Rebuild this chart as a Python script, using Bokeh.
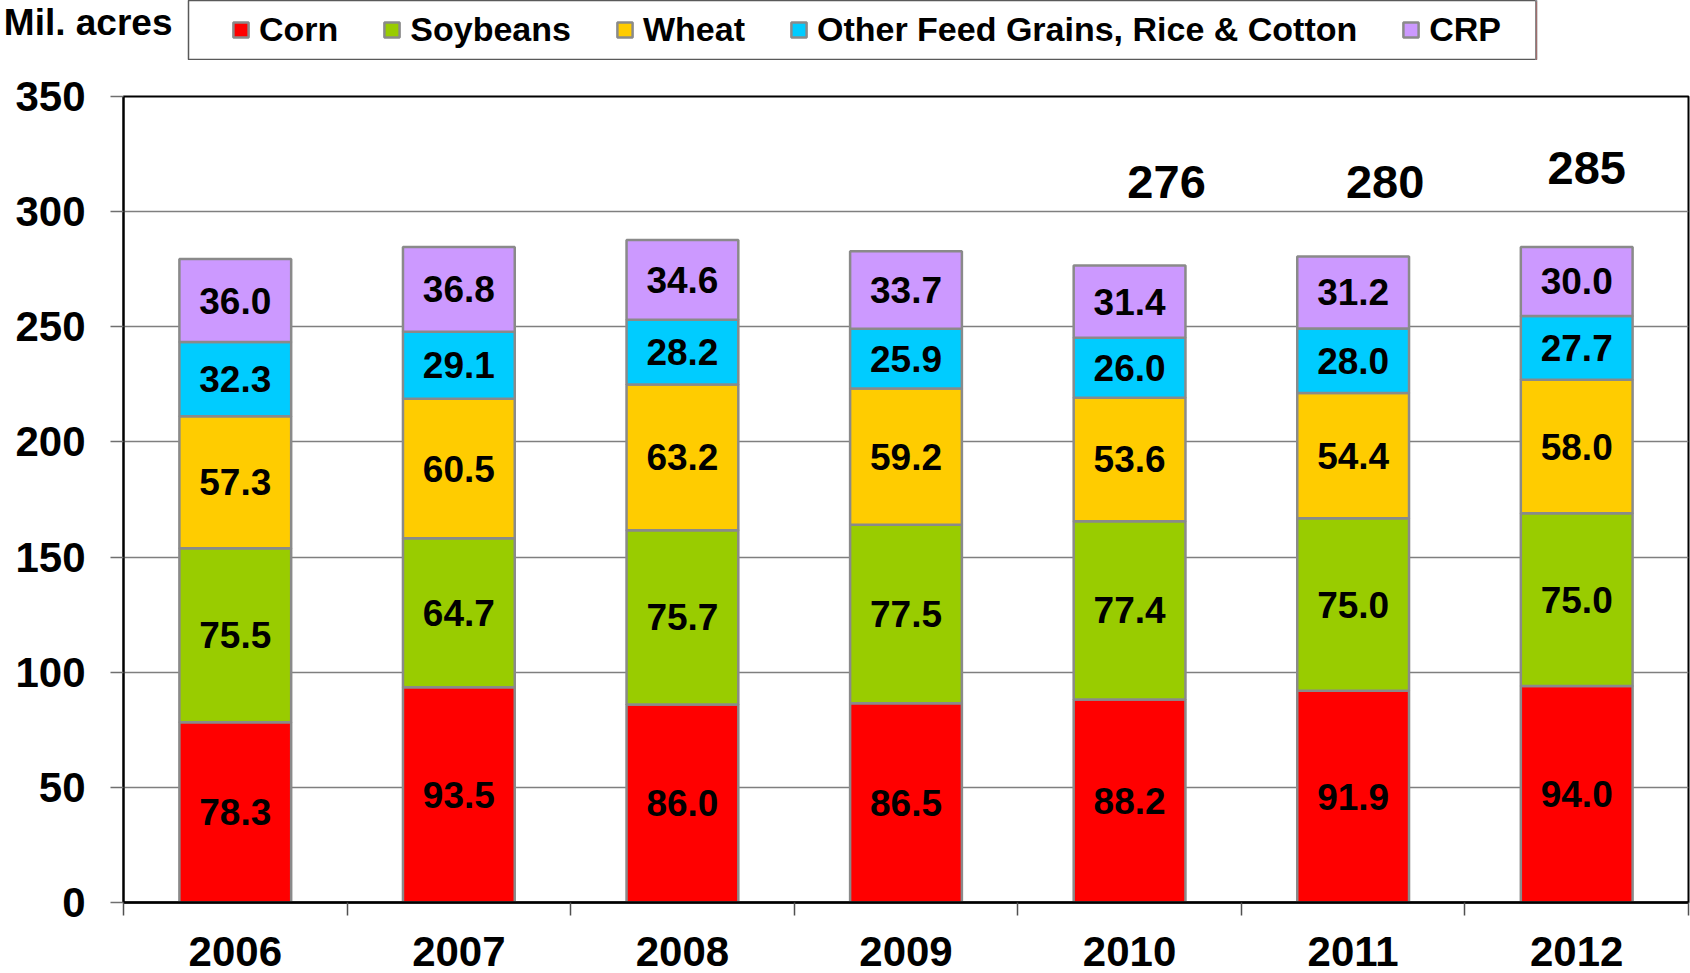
import numpy as np
from bokeh.plotting import figure
from bokeh.layouts import column
from bokeh.models import (ColumnDataSource, Range1d, FixedTicker,
                          CustomJSTickFormatter, Legend, LegendItem)
from bokeh.core.properties import value
from bokeh.embed import file_html
from bokeh.resources import INLINE

# ---- data ----
years = ["2006", "2007", "2008", "2009", "2010", "2011", "2012"]
corn = [78.3, 93.5, 86.0, 86.5, 88.2, 91.9, 94.0]
soybeans = [75.5, 64.7, 75.7, 77.5, 77.4, 75.0, 75.0]
wheat = [57.3, 60.5, 63.2, 59.2, 53.6, 54.4, 58.0]
other = [32.3, 29.1, 28.2, 25.9, 26.0, 28.0, 27.7]
crp = [36.0, 36.8, 34.6, 33.7, 31.4, 31.2, 30.0]
series_names = ["Corn", "Soybeans", "Wheat", "Other Feed Grains, Rice & Cotton", "CRP"]
series_keys = ["corn", "soybeans", "wheat", "other", "crp"]
colors = ["#FF0000", "#99CC00", "#FFCC00", "#00CCFF", "#CC99FF"]
y_ticks = [0, 50, 100, 150, 200, 250, 300, 350]
unit_label = "Mil. acres"
total_years = ["2010", "2011", "2012"]
total_labels = ["276", "280", "285"]
total_label_y = [313, 313, 319]
total_label_dx = [37, 32, 10]

FONT = "Liberation Sans"
W = 1690
TOP_H = 60                      # header strip (unit label + legend box)
MAIN_H = 973 - TOP_H
FRAME_TOP, FRAME_BOTTOM, LEFT = 36, 842, 123
BAR_LINE = "#8A8A8A"

n = len(years)
pos = {yr: i + 0.5 for i, yr in enumerate(years)}   # category centres on the x scale
data = dict(x=[pos[y] for y in years], years=years, corn=corn, soybeans=soybeans,
            wheat=wheat, other=other, crp=crp)
source = ColumnDataSource(data)

# ================= main chart =================
p = figure(x_range=Range1d(0, n), y_range=Range1d(0, 350),
           width=W, height=MAIN_H, output_backend="svg", toolbar_location=None,
           min_border_left=LEFT, min_border_right=2,
           min_border_top=FRAME_TOP, min_border_bottom=MAIN_H - FRAME_BOTTOM)
p.frame_align = False
p.background_fill_color = "white"
p.border_fill_color = "white"
p.outline_line_color = "black"
p.outline_line_width = 2
p.xgrid.grid_line_color = None

# y axis
yt = FixedTicker(ticks=y_ticks)
p.yaxis.ticker = yt
p.ygrid.ticker = yt
p.ygrid.grid_line_color = "#7F7F7F"
p.ygrid.grid_line_width = 1.5
p.yaxis.axis_line_color = "black"
p.yaxis.axis_line_width = 2
p.yaxis.major_tick_in = 0
p.yaxis.major_tick_out = 13
p.yaxis.major_tick_line_color = "#6F6F6F"
p.yaxis.major_tick_line_width = 1.5
p.yaxis.minor_tick_line_color = None
p.yaxis.major_label_standoff = 25
p.yaxis.major_label_text_font = FONT
p.yaxis.major_label_text_font_style = "bold"
p.yaxis.major_label_text_font_size = "42px"
p.yaxis.major_label_text_color = "black"

# x axis: labels at category centres, tick marks at category boundaries
xaxis = p.xaxis[0]
xaxis.ticker = FixedTicker(ticks=[pos[y] for y in years], minor_ticks=list(range(n + 1)))
xaxis.formatter = CustomJSTickFormatter(args=dict(labels=years),
                                        code="return labels[Math.floor(tick)];")
xaxis.axis_line_color = "black"
xaxis.axis_line_width = 2.5
xaxis.major_tick_line_color = None
xaxis.major_tick_in = 0
xaxis.major_tick_out = 0
xaxis.minor_tick_in = 0
xaxis.minor_tick_out = 13
xaxis.minor_tick_line_color = "#505050"
xaxis.minor_tick_line_width = 1.5
xaxis.major_label_standoff = 21
xaxis.major_label_text_font = FONT
xaxis.major_label_text_font_style = "bold"
xaxis.major_label_text_font_size = "42px"
xaxis.major_label_text_color = "black"

# stacked bars
p.vbar_stack(series_keys, x="x", width=0.5, source=source,
             fill_color=colors, line_color=BAR_LINE, line_width=2.5)

# segment labels
arr = np.array([corn, soybeans, wheat, other, crp])
mids = arr.cumsum(axis=0) - arr / 2.0
lx, ly, lt = [], [], []
for i in range(arr.shape[0]):
    for j, yr in enumerate(years):
        lx.append(pos[yr])
        ly.append(float(mids[i, j]))
        lt.append(f"{arr[i, j]:.1f}")
p.text(x=lx, y=ly, text=lt, text_align="center", text_baseline="middle",
       text_font=value(FONT), text_font_style="bold", text_font_size="37px", text_color="black")

# totals
p.text(x=[pos[y] for y in total_years], y=total_label_y, text=total_labels, x_offset=total_label_dx,
       text_align="center", text_baseline="middle",
       text_font=value(FONT), text_font_style="bold", text_font_size="47px", text_color="black")

# ================= header strip: unit label + legend box =================
BOX_LEFT, BOX_RIGHT = 188, 1536
top = figure(x_range=Range1d(-1, 0), y_range=Range1d(0, 1), width=W, height=TOP_H,
             output_backend="svg", toolbar_location=None, x_axis_location=None,
             min_border_left=BOX_LEFT, min_border_right=W - BOX_RIGHT,
             min_border_top=0, min_border_bottom=1)
top.frame_align = False
top.outline_line_color = "#595959"
top.outline_line_width = 1.5
top.xgrid.grid_line_color = None
top.ygrid.grid_line_color = None
top.background_fill_color = "white"
top.border_fill_color = "white"

# unit label sits in the strip's left border, as the single tick label of a bare axis
ua = top.yaxis[0]
ua.ticker = FixedTicker(ticks=[0.63])
ua.formatter = CustomJSTickFormatter(args=dict(t=unit_label), code="return t;")
ua.axis_line_color = None
ua.major_tick_line_color = None
ua.minor_tick_line_color = None
ua.major_tick_out = 0
ua.major_tick_in = 0
ua.major_label_standoff = 16
ua.major_label_text_font = FONT
ua.major_label_text_font_style = "bold"
ua.major_label_text_font_size = "37px"
ua.major_label_text_color = "black"

# legend proxies (same data, lying outside this strip's visible x range)
legend_renderers = top.vbar_stack(series_keys, x="x", width=0.5, source=source,
                                  fill_color=colors, line_color=BAR_LINE, line_width=2.5)
items = [LegendItem(label=nm, renderers=[r]) for nm, r in zip(series_names, legend_renderers)]
legend = Legend(items=items, orientation="horizontal",
                location=(241 - 10 - BOX_LEFT, 10),
                padding=10, margin=0, spacing=44, glyph_width=19, glyph_height=19,
                label_standoff=9, label_text_font=FONT, label_text_font_style="bold",
                label_text_font_size="34px", label_text_color="black",
                border_line_color=None, background_fill_alpha=0.0)
top.add_layout(legend, "center")

layout = column(top, p, spacing=0)
open("out.html", "w").write(file_html(layout, INLINE))
